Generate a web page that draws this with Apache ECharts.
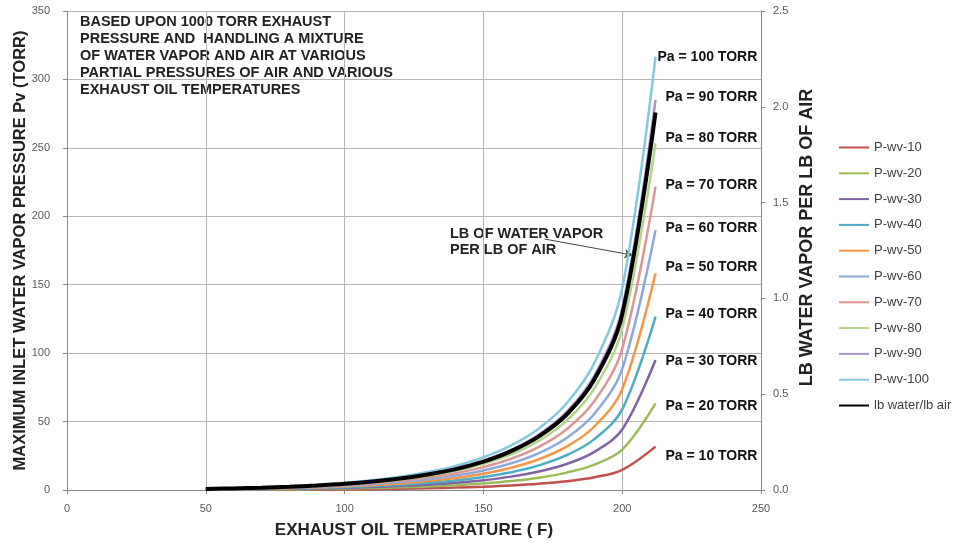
<!DOCTYPE html>
<html>
<head>
<meta charset="utf-8">
<script src="https://cdn.jsdelivr.net/npm/echarts@6/dist/echarts.min.js"></script>
<style>html,body{margin:0;padding:0;background:#fff}#c{width:956px;height:544px}</style>
</head>
<body>
<div id="c"></div>
<script>
// Exhaust oil temperature (F)
const temps = [50, 60, 70, 80, 90, 100, 110, 120, 130, 140, 150, 160, 170, 180, 190, 200, 212];
// Maximum inlet water vapor pressure Pv (TORR) for each air partial pressure
const pwv10  = [0.09, 0.13, 0.19, 0.27, 0.37, 0.52, 0.71, 0.97, 1.31, 1.76, 2.39, 3.26, 4.50, 6.34, 9.29, 14.7, 31.7];
const pwv20  = [0.19, 0.27, 0.38, 0.54, 0.75, 1.04, 1.42, 1.93, 2.61, 3.51, 4.77, 6.51, 8.99, 12.7, 18.6, 29.5, 63.3];
const pwv30  = [0.28, 0.40, 0.57, 0.81, 1.12, 1.55, 2.13, 2.90, 3.92, 5.27, 7.16, 9.77, 13.5, 19.0, 27.9, 44.2, 95.0];
const pwv40  = [0.37, 0.54, 0.77, 1.08, 1.50, 2.07, 2.84, 3.86, 5.22, 7.02, 9.54, 13.0, 18.0, 25.4, 37.2, 58.9, 126.7];
const pwv50  = [0.47, 0.67, 0.96, 1.35, 1.87, 2.59, 3.55, 4.83, 6.53, 8.78, 11.9, 16.3, 22.5, 31.7, 46.4, 73.6, 158.3];
const pwv60  = [0.56, 0.81, 1.15, 1.61, 2.25, 3.11, 4.26, 5.79, 7.84, 10.5, 14.3, 19.5, 27.0, 38.0, 55.7, 88.4, 190.0];
const pwv70  = [0.65, 0.94, 1.34, 1.88, 2.62, 3.62, 4.97, 6.76, 9.14, 12.3, 16.7, 22.8, 31.5, 44.4, 65.0, 103.1, 221.7];
const pwv80  = [0.74, 1.08, 1.53, 2.15, 3.00, 4.14, 5.68, 7.72, 10.4, 14.0, 19.1, 26.0, 36.0, 50.7, 74.3, 117.8, 253.4];
const pwv90  = [0.84, 1.21, 1.72, 2.42, 3.37, 4.66, 6.39, 8.69, 11.8, 15.8, 21.5, 29.3, 40.5, 57.1, 83.6, 132.6, 285.0];
const pwv100 = [0.93, 1.35, 1.92, 2.69, 3.75, 5.18, 7.10, 9.65, 13.1, 17.6, 23.9, 32.6, 45.0, 63.4, 92.9, 147.3, 316.7];
// lb water vapor per lb air (right axis)
const lbWater = [0.0058, 0.0084, 0.0119, 0.0167, 0.0233, 0.0322, 0.0442, 0.0600, 0.0812, 0.109, 0.148, 0.203, 0.280, 0.394, 0.578, 0.916, 1.970];

const seriesNames = ['P-wv-10','P-wv-20','P-wv-30','P-wv-40','P-wv-50','P-wv-60','P-wv-70','P-wv-80','P-wv-90','P-wv-100'];
const endLabels = ['Pa = 10 TORR','Pa = 20 TORR','Pa = 30 TORR','Pa = 40 TORR','Pa = 50 TORR','Pa = 60 TORR','Pa = 70 TORR','Pa = 80 TORR','Pa = 90 TORR','Pa = 100 TORR'];
const seriesData = [pwv10, pwv20, pwv30, pwv40, pwv50, pwv60, pwv70, pwv80, pwv90, pwv100];
const colors = ['#C0504D','#9BBB59','#8064A2','#4BACC6','#F79646','#8DA9DB','#D99694','#B5D38A','#A993CD','#86C8DE'];
const labelOffsets = [[0,10],[0,3],[0,1],[0,-2.5],[0,-6],[0,-2],[0,-1.5],[0,-5],[0,-3],[-8,1]];

const FONT = 'Liberation Sans, Arial, sans-serif';
const pair = (arr) => temps.map((t, i) => [t, arr[i]]);

const series = seriesData.map((d, i) => ({
  name: seriesNames[i],
  type: 'line',
  data: pair(d),
  symbol: 'none',
  smooth: 0.35,
  color: colors[i],
  lineStyle: { width: 2.5, color: colors[i] },
  endLabel: {
    show: true,
    formatter: endLabels[i],
    distance: 10,
    offset: labelOffsets[i],
    color: '#111',
    fontFamily: FONT,
    fontWeight: 'bold',
    fontSize: 14
  },
  z: 2 + i
}));

series.push({
  name: 'lb water/lb air',
  type: 'line',
  yAxisIndex: 1,
  data: pair(lbWater),
  symbol: 'none',
  smooth: 0.35,
  color: '#000',
  lineStyle: { width: 4, color: '#000' },
  z: 20,
  markLine: {
    silent: true,
    symbol: ['none', 'arrow'],
    symbolSize: [7, 9],
    lineStyle: { color: '#444', width: 1, type: 'solid' },
    label: { show: false },
    data: [[{ coord: [172, 1.31] }, { coord: [204, 1.225] }]]
  }
});

const chart = echarts.init(document.getElementById('c'));
chart.setOption({
  animation: false,
  backgroundColor: '#fff',
  grid: { left: 67, right: 195, top: 11, bottom: 54, containLabel: false, outerBoundsMode: 'none' },
  legend: {
    orient: 'vertical',
    left: 833,
    top: 136,
    itemWidth: 30,
    itemHeight: 14,
    itemGap: 12.8,
    itemStyle: { opacity: 0 },
    textStyle: { fontFamily: FONT, fontSize: 13, color: '#404040' },
    data: seriesNames.concat(['lb water/lb air'])
  },
  xAxis: {
    type: 'value',
    min: 0, max: 250, interval: 50,
    name: 'EXHAUST OIL TEMPERATURE ( F)',
    nameLocation: 'middle',
    nameGap: 32,
    nameMoveOverlap: false,
    nameTextStyle: { fontFamily: FONT, fontWeight: 'bold', fontSize: 17, color: '#222' },
    axisLine: { show: true, lineStyle: { color: '#888', width: 1 } },
    axisTick: { show: true, length: 4, lineStyle: { color: '#888' } },
    axisLabel: { fontFamily: FONT, fontSize: 11, color: '#595959', margin: 13 },
    splitLine: { show: true, lineStyle: { color: '#B5B5B5', width: 1 } }
  },
  yAxis: [{
    type: 'value',
    min: 0, max: 350, interval: 50,
    name: 'MAXIMUM INLET WATER VAPOR PRESSURE Pv (TORR)',
    nameLocation: 'middle',
    nameRotate: 90,
    nameGap: 38.5,
    nameMoveOverlap: false,
    nameTextStyle: { fontFamily: FONT, fontWeight: 'bold', fontSize: 16.5, color: '#222' },
    axisLine: { show: true, lineStyle: { color: '#888', width: 1 } },
    axisTick: { show: true, length: 4, lineStyle: { color: '#888' } },
    axisLabel: { fontFamily: FONT, fontSize: 11, color: '#595959', margin: 17 },
    splitLine: { show: true, lineStyle: { color: '#B5B5B5', width: 1 } }
  }, {
    type: 'value',
    position: 'right',
    min: 0, max: 2.5, interval: 0.5,
    name: 'LB WATER VAPOR PER LB OF AIR',
    nameLocation: 'middle',
    nameRotate: 90,
    nameGap: 37,
    nameMoveOverlap: false,
    nameTextStyle: { fontFamily: FONT, fontWeight: 'bold', fontSize: 18, color: '#222', padding: [0, 0, 0, 26] },
    axisLine: { show: true, lineStyle: { color: '#888', width: 1 } },
    axisTick: { show: true, length: 4, lineStyle: { color: '#888' } },
    axisLabel: { fontFamily: FONT, fontSize: 11, color: '#595959', margin: 12, formatter: v => v.toFixed(1) },
    splitLine: { show: false }
  }],
  graphic: [{
    type: 'text',
    left: 80, top: 13,
    style: {
      text: 'BASED UPON 1000 TORR EXHAUST\nPRESSURE AND  HANDLING A MIXTURE\nOF WATER VAPOR AND AIR AT VARIOUS\nPARTIAL PRESSURES OF AIR AND VARIOUS\nEXHAUST OIL TEMPERATURES',
      font: 'bold 14.5px ' + FONT,
      lineHeight: 17,
      fill: '#222'
    }
  }, {
    type: 'text',
    left: 450, top: 226,
    style: {
      text: 'LB OF WATER VAPOR\nPER LB OF AIR',
      font: 'bold 14.5px ' + FONT,
      lineHeight: 16,
      fill: '#222'
    }
  }],
  series: series
});
</script>
</body>
</html>
